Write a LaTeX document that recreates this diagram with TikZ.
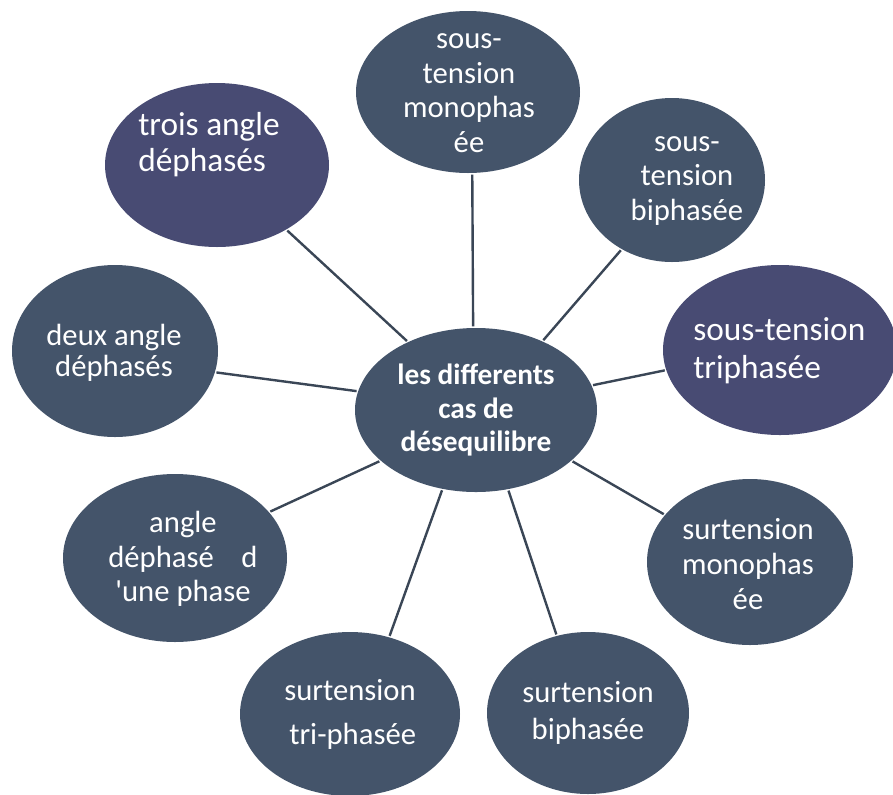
\documentclass[tikz,border=0pt]{standalone}
\usepackage{fontspec}
\setmainfont{Carlito}
\usetikzlibrary{shapes.geometric}
\definecolor{slate}{RGB}{68,84,106}
\definecolor{plum}{RGB}{72,75,115}
\definecolor{wire}{RGB}{58,70,86}
\begin{document}
\begin{tikzpicture}[x=0.75pt,y=-0.75pt,
  blob/.style={ellipse,fill=slate,draw=none,inner sep=0pt},
  pblob/.style={blob,fill=plum},
  txt/.style={text=white,align=center,inner sep=0pt,font=\fontsize{23}{26}\selectfont},
  ptxt/.style={text=white,align=left,inner sep=0pt,anchor=west,font=\fontsize{25}{28.5}\selectfont},
  ctxt/.style={text=white,align=center,inner sep=0pt,font=\bfseries\fontsize{22}{25}\selectfont},
  link/.style={draw=wire,line width=1.8pt,shorten <=1pt,shorten >=1pt}]
\fill[white] (0,0) rectangle (893,794);
\useasboundingbox (0,0) rectangle (893,794);
% ellipses
\node[blob,minimum width=181.5pt,minimum height=123pt] (c) at (476,410) {};
\node[blob,minimum width=168pt,minimum height=121.5pt] (n1) at (468,92) {};
\node[blob,minimum width=139.5pt,minimum height=123pt] (n2) at (672,180) {};
\node[pblob,minimum width=175.5pt,minimum height=127.5pt] (n3) at (780,350) {};
\node[blob,minimum width=154.5pt,minimum height=124.5pt] (n4) at (750,562) {};
\node[blob,minimum width=151.5pt,minimum height=121.5pt] (n5) at (588,713) {};
\node[blob,minimum width=165pt,minimum height=123pt] (n6) at (350,714) {};
\node[blob,minimum width=168pt,minimum height=126pt] (n7) at (175,558) {};
\node[blob,minimum width=154.5pt,minimum height=129pt] (n8) at (115,351) {};
\node[pblob,minimum width=168pt,minimum height=123pt] (n9) at (217,165) {};
% texts
\node[ctxt] (tc) at (476,410) {les differents\\cas de\\désequilibre};
\node[txt] (t1) at (469,93) {sous-\\tension\\monophas\\ée};
\node[txt] (t2) at (687,181) {sous-\\tension\\biphasée};
\node[ptxt] (t3) at (693,351) {sous-tension\\triphasée};
\node[txt] (t4) at (748,564) {surtension\\monophas\\ée};
\node[txt,font=\fontsize{23}{28}\selectfont] (t5) at (588,713) {surtension\\biphasée};
\node[txt,font=\fontsize{23}{33}\selectfont] (t6) at (350,714) {surtension\\\hspace{4pt}tri-phasée};
\node[txt] (t7) at (183,559) {angle\\déphasé\hspace{0.9em}d\\\textquotesingle une phase};
\node[txt,font=\fontsize{23}{23}\selectfont] (t8) at (114,353) {deux angle\\déphasés};
\node[ptxt,font=\fontsize{25}{27}\selectfont] (t9) at (138,145) {trois angle\\déphasés};
% connectors
\draw[link] (c.135) -- (n9.-43);
\draw[link] (c.92) -- (n1.-87);
\draw[link] (c.46) -- (n2.234);
\draw[link] (c.12) -- (n3.190);
\draw[link] (c.-28) -- (n4.151);
\draw[link] (c.-68) -- (n5.112);
\draw[link] (c.247) -- (n6.63);
\draw[link] (c.208) -- (n7.26);
\draw[link] (c.171) -- (n8.-12);
\end{tikzpicture}
\end{document}
